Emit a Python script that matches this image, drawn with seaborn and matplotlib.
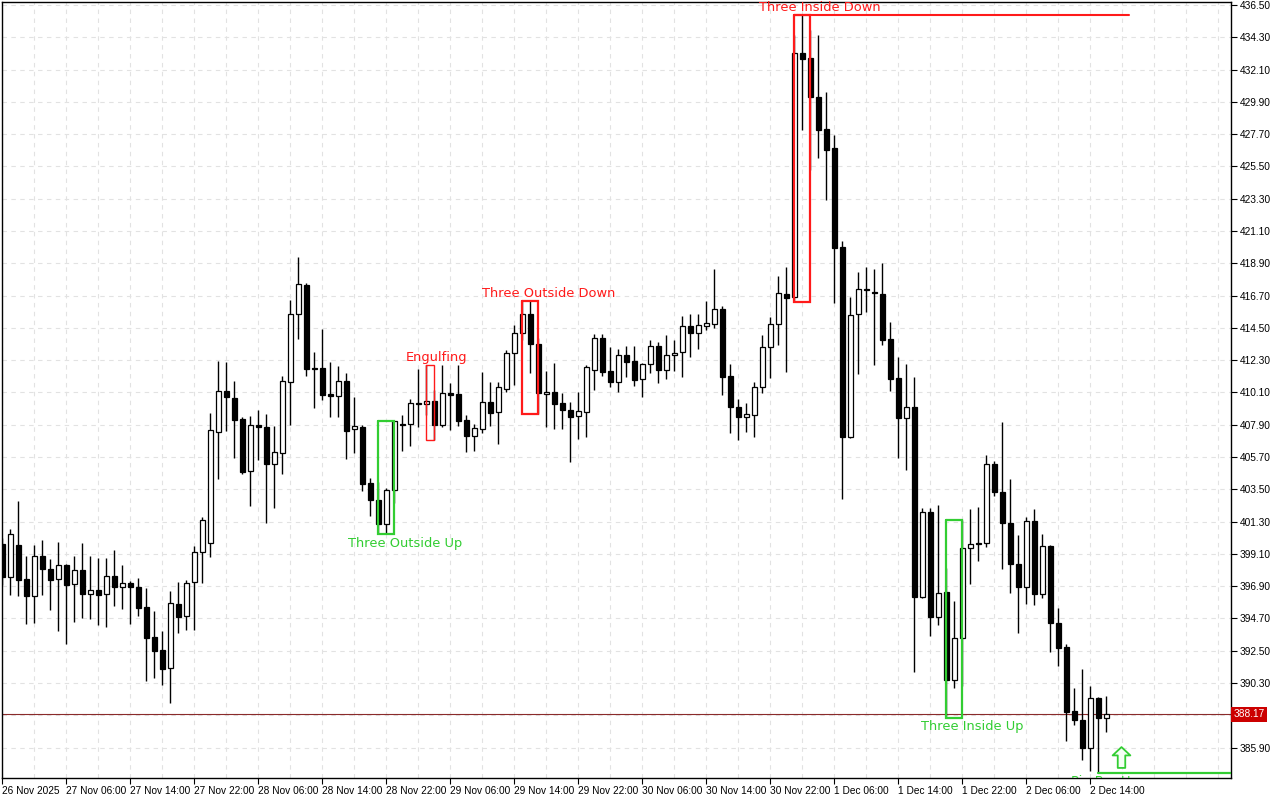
import numpy as np
import pandas as pd
import matplotlib
matplotlib.use("Agg")
import matplotlib.pyplot as plt
import matplotlib.transforms as mtransforms
from matplotlib.path import Path
from matplotlib.markers import MarkerStyle
import seaborn as sns

# ---------------- data (hourly candles, 26 Nov 22:00 -> 2 Dec 16:00) ----------------
opens = [399.77, 397.52, 399.70, 397.38, 396.23, 398.98, 398.07, 397.38, 398.34, 397.05,
         398.00, 396.36, 396.64, 396.36, 397.59, 396.84, 397.11, 396.84, 395.48, 393.43,
         392.54, 391.32, 395.68, 394.89, 397.18, 399.22, 399.84, 407.40, 410.20, 409.72,
         408.29, 404.75, 407.88, 407.74, 405.22, 405.97, 410.81, 415.44, 417.42, 411.77,
         411.77, 410.00, 409.86, 410.88, 407.61, 407.74, 403.93, 402.77, 401.14, 403.45,
         407.95, 407.95, 409.38, 409.31, 409.52, 407.88, 410.06, 410.00, 408.22, 407.13,
         407.61, 409.45, 408.77, 410.33, 412.79, 414.15, 415.44, 413.40, 410.00, 410.13,
         409.38, 408.90, 408.49, 408.77, 411.63, 413.81, 411.56, 410.81, 412.65, 412.24,
         411.02, 412.04, 413.26, 411.63, 412.65, 412.86, 414.63, 414.15, 414.63, 414.76,
         415.78, 411.22, 409.11, 408.42, 408.56, 410.47, 413.20, 414.76, 416.81, 416.60,
         433.23, 432.89, 430.23, 428.05, 426.76, 420.01, 407.06, 415.44, 417.15, 416.94,
         416.81, 413.74, 411.08, 408.36, 409.11, 396.16, 401.95, 394.80, 396.50, 390.50,
         393.37, 399.50, 399.84, 399.84, 405.22, 403.31, 401.20, 398.41, 396.84, 401.34,
         396.36, 399.63, 394.39, 392.75, 388.39, 387.78, 385.87, 389.28, 387.91]
highs = [400.18, 400.79, 402.70, 398.98, 399.70, 400.02, 398.75, 399.93, 398.41, 398.98,
         399.84, 398.98, 398.84, 398.84, 399.34, 398.34, 397.25, 397.45, 396.77, 395.20,
         393.84, 396.57, 397.18, 397.32, 399.63, 401.61, 408.70, 412.24, 412.17, 410.88,
         408.42, 408.49, 408.90, 408.63, 407.81, 411.22, 416.40, 419.33, 417.56, 412.86,
         414.42, 412.17, 411.90, 411.42, 409.79, 407.88, 404.27, 404.00, 403.59, 408.15,
         408.56, 409.65, 411.71, 411.97, 410.27, 411.97, 410.74, 411.97, 408.56, 407.95,
         411.49, 410.81, 410.81, 412.99, 414.69, 416.33, 416.33, 413.81, 411.56, 412.10,
         410.06, 409.45, 410.13, 411.97, 414.08, 414.08, 413.20, 413.06, 413.26, 413.26,
         412.10, 413.67, 413.54, 414.01, 413.67, 415.31, 415.44, 415.44, 416.33, 418.51,
         415.99, 412.04, 409.65, 409.38, 410.81, 414.01, 415.24, 418.03, 418.65, 434.46,
         435.82, 434.80, 434.46, 430.57, 427.64, 420.42, 416.60, 418.31, 418.65, 418.51,
         418.92, 414.90, 412.52, 412.04, 411.15, 402.22, 402.22, 402.43, 398.13, 395.89,
         401.41, 402.16, 402.29, 405.84, 405.43, 408.08, 404.20, 400.38, 401.61, 402.16,
         400.45, 399.70, 395.41, 392.96, 389.96, 391.25, 390.09, 389.35, 389.41]
lows = [396.98, 396.30, 396.23, 394.32, 394.39, 396.30, 395.27, 393.84, 392.95, 394.46,
        394.73, 394.66, 394.25, 394.11, 395.54, 395.34, 394.32, 394.86, 390.43, 390.64,
        390.16, 388.95, 393.70, 393.91, 393.91, 397.11, 398.89, 404.20, 407.47, 405.63,
        404.54, 402.36, 405.49, 401.20, 402.22, 404.54, 407.88, 413.74, 411.22, 409.04,
        409.58, 408.42, 408.42, 405.56, 405.97, 403.38, 401.68, 400.45, 400.45, 402.56,
        406.11, 406.45, 407.74, 408.56, 406.86, 407.74, 407.54, 407.81, 406.04, 406.11,
        407.33, 407.81, 406.59, 410.13, 410.61, 413.67, 411.42, 408.63, 407.74, 407.61,
        407.61, 405.36, 406.93, 407.06, 410.27, 411.22, 410.47, 410.13, 411.15, 410.54,
        409.79, 411.42, 410.74, 411.02, 411.56, 411.15, 412.52, 413.06, 414.35, 414.49,
        409.93, 407.33, 406.86, 407.40, 407.06, 410.06, 411.08, 413.33, 411.49, 416.26,
        427.98, 425.26, 426.08, 423.21, 416.19, 402.84, 407.00, 411.36, 415.58, 411.97,
        413.33, 410.20, 405.63, 404.81, 391.05, 396.10, 393.50, 394.25, 387.91, 389.96,
        390.09, 397.05, 398.61, 399.57, 403.04, 398.07, 396.43, 393.71, 395.68, 395.61,
        396.09, 392.41, 391.46, 386.35, 387.44, 385.05, 384.30, 384.16, 386.96]
closes = [397.52, 400.45, 397.32, 396.23, 398.98, 398.07, 397.32, 398.34, 396.98, 398.00,
          396.36, 396.64, 396.30, 397.59, 396.84, 397.11, 396.84, 395.41, 393.36, 392.47,
          391.25, 395.75, 394.83, 397.11, 399.22, 401.41, 407.54, 410.20, 409.79, 408.22,
          404.68, 407.88, 407.74, 405.22, 406.04, 410.88, 415.44, 417.49, 411.71, 411.71,
          409.93, 409.86, 410.88, 407.47, 407.81, 403.86, 402.77, 401.14, 403.45, 408.15,
          407.88, 409.38, 409.31, 409.52, 407.88, 410.06, 409.93, 408.15, 407.13, 407.67,
          409.45, 408.70, 410.47, 412.79, 414.15, 415.44, 413.40, 410.06, 410.13, 409.31,
          408.90, 408.42, 408.83, 411.83, 413.81, 411.49, 410.81, 412.65, 412.17, 410.95,
          412.04, 413.26, 411.63, 412.65, 412.79, 414.63, 414.15, 414.69, 414.83, 415.78,
          411.15, 409.11, 408.42, 408.63, 410.47, 413.20, 414.76, 416.87, 416.53, 433.23,
          432.82, 430.23, 427.98, 426.62, 419.94, 407.06, 415.38, 417.15, 417.08, 416.87,
          413.67, 411.02, 408.36, 409.11, 396.16, 401.95, 394.80, 396.43, 390.50, 393.37,
          399.50, 399.77, 399.77, 405.22, 403.31, 401.20, 398.41, 396.84, 401.34, 396.36,
          399.63, 394.39, 392.68, 388.32, 387.78, 385.87, 389.28, 387.91, 388.17]

x_labels = ["26 Nov 2025", "27 Nov 06:00", "27 Nov 14:00", "27 Nov 22:00", "28 Nov 06:00",
            "28 Nov 14:00", "28 Nov 22:00", "29 Nov 06:00", "29 Nov 14:00", "29 Nov 22:00",
            "30 Nov 06:00", "30 Nov 14:00", "30 Nov 22:00", "1 Dec 06:00", "1 Dec 14:00",
            "1 Dec 22:00", "2 Dec 06:00", "2 Dec 14:00"]
y_ticks = [385.90, 388.10, 390.30, 392.50, 394.70, 396.90, 399.10, 401.30, 403.50, 405.70,
           407.90, 410.10, 412.30, 414.50, 416.70, 418.90, 421.10, 423.30, 425.50, 427.70,
           429.90, 432.10, 434.30, 436.50]

# candlestick patterns: (name, first bar, last bar, kind, label x, label y)
patterns = [
    ("Three Outside Up", 47, 49, "up", 50.3, 399.84),
    ("Engulfing", 53, 54, "down", 54.3, 412.51),
    ("Three Outside Down", 65, 67, "down", 68.25, 416.87),
    ("Three Inside Down", 99, 101, "down", 102.2, 436.30),
    ("Three Inside Up", 118, 120, "up", 121.2, 387.37),
]
three_inside_down_line_end = 140.8
pin_bar_index = 137
pin_bar_label = ("Pin Bar Up", 137.8, 383.62)
pin_arrow_pos = (139.9, 385.26)
last_price = closes[-1]

# ---------------- styling ----------------
sns.set_theme(style="white")
plt.rcParams["font.family"] = ["DejaVu Sans"]

RED = "#ff1a1a"
GREEN = "#32cd32"
GRID = "#e2e2e2"

df = pd.DataFrame({"open": opens, "high": highs, "low": lows, "close": closes})
df["idx"] = np.arange(len(df))
df["bull"] = df["close"] >= df["open"]
df["body_low"] = df[["open", "close"]].min(axis=1)
df["body_h"] = (df["close"] - df["open"]).abs().clip(lower=0.03)

fig = plt.figure(figsize=(12.8, 8), dpi=100)
fig.patch.set_facecolor("white")
ax = fig.add_axes([1.5 / 1280, 22 / 800, 1229.5 / 1280, 776 / 800])
ax.set_facecolor("white")

# wicks
ax.vlines(df["idx"], df["low"], df["high"], color="black", lw=1.0, zorder=2)
# bodies
bull = df[df["bull"]]
bear = df[~df["bull"]]
ax.bar(bull["idx"], bull["body_h"], bottom=bull["body_low"], width=0.6,
       facecolor="white", edgecolor="black", linewidth=0.9, zorder=3)
ax.bar(bear["idx"], bear["body_h"], bottom=bear["body_low"], width=0.6,
       facecolor="black", edgecolor="black", linewidth=0.9, zorder=3)

# pattern boxes + labels
for name, i0, i1, kind, lx, ly in patterns:
    col = GREEN if kind == "up" else RED
    hi = max(highs[i0:i1 + 1])
    lo = min(lows[i0:i1 + 1])
    lw = 1.0 if name == "Engulfing" else 1.6
    ax.plot([i0, i1, i1, i0, i0], [hi, hi, lo, lo, hi], color=col, lw=lw,
            zorder=4, solid_joinstyle="miter")
    ax.text(lx, ly, name, color=col, fontsize=9.4, ha="center", va="center", zorder=5)

# Three Inside Down level extension
tid = patterns[3]
tid_hi = max(highs[tid[1]:tid[2] + 1])
ax.plot([tid[1], three_inside_down_line_end], [tid_hi, tid_hi], color=RED, lw=1.5, zorder=4)

# Pin bar up level + arrow + label
xl, xr = -0.1, 153.59
pin_low = lows[pin_bar_index]
ax.plot([pin_bar_index, xr], [pin_low, pin_low], color=GREEN, lw=1.6, zorder=4)
ax.text(pin_bar_label[1], pin_bar_label[2], pin_bar_label[0], color=GREEN, fontsize=9.4,
        ha="center", va="center", zorder=5, clip_on=True)
arrow_verts = [(0, 1), (0.85, 0.2), (0.36, 0.2), (0.36, -1), (-0.36, -1),
               (-0.36, 0.2), (-0.85, 0.2), (0, 1)]
arrow_path = Path(arrow_verts, [Path.MOVETO] + [Path.LINETO] * 6 + [Path.CLOSEPOLY])
ax.scatter([pin_arrow_pos[0]], [pin_arrow_pos[1]], marker=MarkerStyle(arrow_path),
           s=15 ** 2, facecolor="#f4fff4", edgecolor=GREEN, linewidths=1.3, zorder=6)

# last price line
ax.axhline(last_price, color="#8a2a2a", lw=0.8, zorder=1)

# axes limits
ax.set_xlim(xl, xr)
ax.set_ylim(383.83, 436.70)

# ticks
ax.yaxis.tick_right()
ax.set_yticks(y_ticks)
ax.set_yticklabels(["" if abs(v - 388.10) < 1e-6 else f"{v:.2f}" for v in y_ticks])
ax.set_xticks(np.arange(0, 8 * len(x_labels), 8))
ax.set_xticklabels(x_labels, ha="left")
ax.set_xticks(np.arange(0, 154, 4), minor=True)
ax.tick_params(axis="y", which="major", direction="out", length=4, width=0.8,
               labelsize=7.3, pad=2, colors="black", right=True, left=False)
ax.tick_params(axis="x", which="major", direction="out", length=4, width=0.8,
               labelsize=7.3, pad=2, colors="black", bottom=True)
ax.tick_params(axis="x", which="minor", length=0)
for lbl in ax.get_xticklabels() + ax.get_yticklabels():
    lbl.set_family(["Liberation Sans", "DejaVu Sans"])

# grid
ax.grid(True, which="both", axis="x", color=GRID, lw=0.8, linestyle=(0, (4, 4)), zorder=0)
ax.grid(True, which="major", axis="y", color=GRID, lw=0.8, linestyle=(0, (4, 4)), zorder=0)
ax.set_axisbelow(True)

for s in ax.spines.values():
    s.set_visible(True)
    s.set_color("black")
    s.set_linewidth(1.0)

# price tag on right axis
trans = mtransforms.blended_transform_factory(ax.transAxes, ax.transData)
ax.text(1.0018, last_price, f"{last_price:.2f}", transform=trans, ha="left", va="center",
        color="white", fontsize=7.3, family=["Liberation Sans", "DejaVu Sans"],
        bbox=dict(boxstyle="square,pad=0.22", facecolor="#cc0000", edgecolor="none"),
        clip_on=False, zorder=10)

fig.savefig("out.png", dpi=100, facecolor="white")
